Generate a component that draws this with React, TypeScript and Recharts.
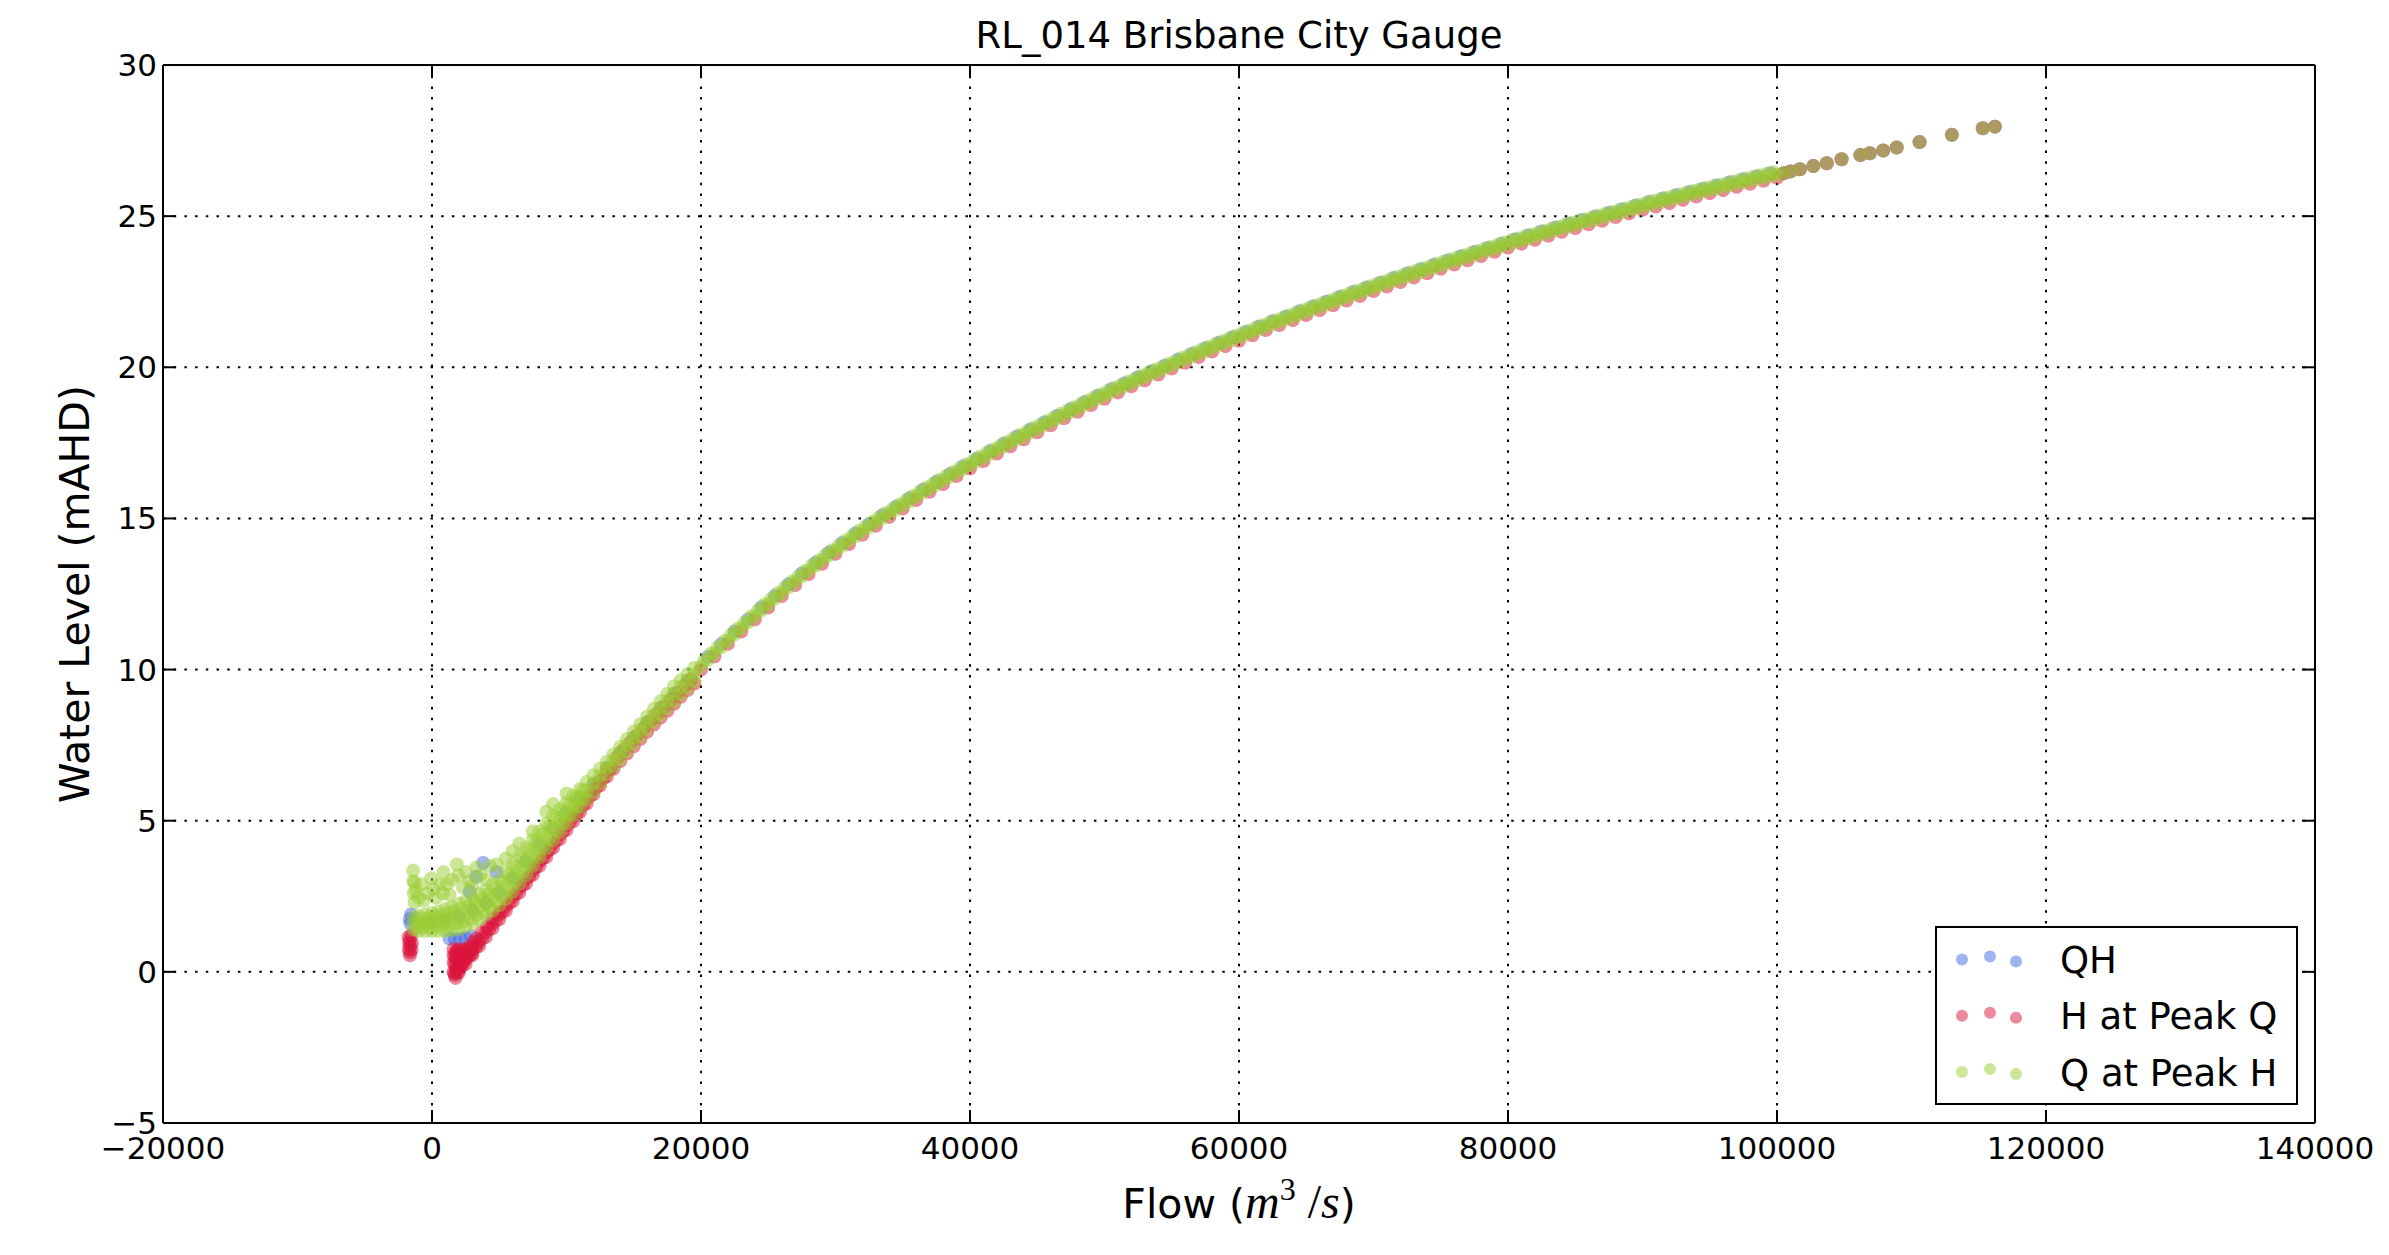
import { ScatterChart, Scatter, XAxis, YAxis, CartesianGrid, Legend } from "recharts";

const W = 2389;
const H = 1255;
const FONT = "'DejaVu Sans', sans-serif";
const MATH = "'Liberation Serif', 'DejaVu Serif', serif";
const DOT_R = 7;
const TICK = 13;

const xTicks = [-20000, 0, 20000, 40000, 60000, 80000, 100000, 120000, 140000];
const yTicks = [-5, 0, 5, 10, 15, 20, 25, 30];

// above ~100000 m3/s all three runs land on the same points
const peakTail = [
  [100500, 26.42], [101000, 26.48], [101700, 26.55], [102700, 26.66], [103700, 26.75],
  [104800, 26.88], [106200, 27.02], [106900, 27.08], [107900, 27.17], [108900, 27.27],
  [110600, 27.45], [113000, 27.69], [115300, 27.91], [116200, 27.96],
];

// QH
const qhLow = [
  [-1650, 1.75], [-1600, 1.6], [-1550, 1.9], [1300, 1.1], [1700, 1.08], [2100, 1.1],
  [2500, 1.12], [2900, 1.18], [2800, 2.65], [3300, 3.15], [3800, 3.6], [4800, 3.3],
];
const qhCore = [
  [0, 1.65], [1000, 1.72], [2000, 1.83], [3000, 2.02], [4000, 2.29], [5000, 2.62],
  [6000, 3.1], [7000, 3.65], [8000, 4.22], [9000, 4.75], [10000, 5.25], [11000, 5.75],
  [12000, 6.22], [13000, 6.75], [14000, 7.25], [15000, 7.75], [16000, 8.25], [17000, 8.73],
  [18000, 9.2], [19000, 9.63],
];
const qhBand = [
  [20500, 10.42], [21500, 10.84], [22500, 11.26], [23500, 11.66], [24500, 12.06], [25500, 12.44],
  [26500, 12.82], [27500, 13.18], [28500, 13.53], [29500, 13.87], [30500, 14.19], [31500, 14.51],
  [32500, 14.81], [33500, 15.11], [34500, 15.39], [35500, 15.67], [36500, 15.95], [37500, 16.21],
  [38500, 16.47], [39500, 16.73], [40500, 16.98], [41500, 17.23], [42500, 17.47], [43500, 17.71],
  [44500, 17.94], [45500, 18.17], [46500, 18.4], [47500, 18.62], [48500, 18.84], [49500, 19.06],
  [50500, 19.27], [51500, 19.47], [52500, 19.67], [53500, 19.87], [54500, 20.06], [55500, 20.26],
  [56500, 20.45], [57500, 20.63], [58500, 20.81], [59500, 20.99], [60500, 21.17], [61500, 21.35],
  [62500, 21.52], [63500, 21.68], [64500, 21.85], [65500, 22.01], [66500, 22.17], [67500, 22.33],
  [68500, 22.49], [69500, 22.64], [70500, 22.8], [71500, 22.95], [72500, 23.1], [73500, 23.24],
  [74500, 23.39], [75500, 23.53], [76500, 23.67], [77500, 23.81], [78500, 23.95], [79500, 24.09],
  [80500, 24.23], [81500, 24.36], [82500, 24.49], [83500, 24.62], [84500, 24.75], [85500, 24.87],
  [86500, 24.99], [87500, 25.11], [88500, 25.23], [89500, 25.35], [90500, 25.47], [91500, 25.58],
  [92500, 25.69], [93500, 25.8], [94500, 25.91], [95500, 26.01], [96500, 26.12], [97500, 26.22],
  [98500, 26.32], [99500, 26.42],
];

// H at Peak Q
const hpqBlob = [
  [-1750, 1.15], [-1550, 1.2], [-1700, 0.95], [-1500, 0.95], [-1720, 0.75], [-1520, 0.72],
  [-1630, 0.55], [-1650, 1.05], [-1600, 0.85], [-1650, 0.65],
];
const hpqTrough = [
  [1750, -0.2], [1600, 0.0], [1950, 0.0], [1600, 0.3], [1950, 0.3], [2300, 0.3],
  [1600, 0.55], [1950, 0.55], [2300, 0.55], [2650, 0.55], [2950, 0.6],
  [1600, 0.75], [1950, 0.75], [2300, 0.75], [2650, 0.75], [3000, 0.8], [3350, 0.9],
  [1700, -0.1], [1780, 0.15], [2120, 0.15], [1780, 0.43], [2120, 0.43], [2470, 0.43],
  [1780, 0.65], [2120, 0.65], [2470, 0.65], [2800, 0.68],
  [1650, -0.05], [1850, 0.05], [2050, 0.2], [1700, 0.25], [2000, 0.45], [2200, 0.6],
  [2500, 0.7], [1700, 0.5], [1850, 0.7], [2850, 0.85], [3100, 1.0],
  [3300, 1.1], [3700, 1.3], [4100, 1.5], [4500, 1.75], [5000, 1.98],
];
const hpqEdge = [
  [2000, -0.03], [2500, 0.26], [3000, 0.56], [3500, 0.85], [4000, 1.15], [4500, 1.44],
  [5000, 1.74], [5500, 2.03], [6000, 2.33], [6500, 2.62], [7000, 2.92], [7500, 3.21],
  [8000, 3.51], [8500, 3.8], [9000, 4.1], [9500, 4.39], [10000, 4.69], [10500, 4.98],
  [11000, 5.28], [11500, 5.57], [12000, 5.87], [12500, 6.16], [13000, 6.46], [13500, 6.72],
  [14000, 6.97], [14500, 7.22], [15000, 7.46], [15500, 7.7], [16000, 7.94], [16500, 8.18],
  [17000, 8.41], [17500, 8.64], [18000, 8.87], [18500, 9.1], [19000, 9.32], [19500, 9.54],
];
const hpqEdgeUp = [
  [2000, 0.12], [2500, 0.41], [3000, 0.71], [3500, 1.0], [4000, 1.3], [4500, 1.59],
  [5000, 1.89], [5500, 2.18], [6000, 2.48], [6500, 2.77], [7000, 3.07], [7500, 3.36],
  [8000, 3.66], [8500, 3.95], [9000, 4.25], [9500, 4.54], [10000, 4.84], [10500, 5.13],
  [11000, 5.43], [11500, 5.72], [12000, 6.02], [12500, 6.31], [13000, 6.61],
];
const hpqInner = [
  [2250, 0.22], [2750, 0.51], [3250, 0.81], [3750, 1.1], [4250, 1.4], [4750, 1.69],
  [5250, 1.99], [5750, 2.28], [6250, 2.58], [6750, 2.87], [7250, 3.17], [7750, 3.46],
  [8250, 3.76], [8750, 4.05], [9250, 4.35], [9750, 4.64], [10250, 4.94], [10750, 5.23],
  [11250, 5.53], [11750, 5.82], [12250, 6.12], [12750, 6.41], [13250, 6.71], [13750, 7.1],
  [14250, 7.35], [14750, 7.59], [15250, 7.83], [15750, 8.07], [16250, 8.31], [16750, 8.55],
  [17250, 8.78], [17750, 9.0], [18250, 9.24], [18750, 9.46], [19250, 9.68],
];
const hpqBand = [
  [20000, 10.0], [21000, 10.43], [22000, 10.85], [23000, 11.26], [24000, 11.66], [25000, 12.05],
  [26000, 12.43], [27000, 12.8], [28000, 13.16], [29000, 13.5], [30000, 13.83], [31000, 14.15],
  [32000, 14.46], [33000, 14.76], [34000, 15.05], [35000, 15.33], [36000, 15.61], [37000, 15.88],
  [38000, 16.14], [39000, 16.4], [40000, 16.65], [41000, 16.9], [42000, 17.15], [43000, 17.39],
  [44000, 17.62], [45000, 17.85], [46000, 18.08], [47000, 18.31], [48000, 18.53], [49000, 18.75],
  [50000, 18.96], [51000, 19.17], [52000, 19.37], [53000, 19.57], [54000, 19.76], [55000, 19.96],
  [56000, 20.15], [57000, 20.34], [58000, 20.52], [59000, 20.7], [60000, 20.88], [61000, 21.06],
  [62000, 21.23], [63000, 21.4], [64000, 21.56], [65000, 21.73], [66000, 21.89], [67000, 22.05],
  [68000, 22.21], [69000, 22.36], [70000, 22.52], [71000, 22.67], [72000, 22.82], [73000, 22.97],
  [74000, 23.11], [75000, 23.26], [76000, 23.4], [77000, 23.54], [78000, 23.68], [79000, 23.82],
  [80000, 23.96], [81000, 24.09], [82000, 24.22], [83000, 24.35], [84000, 24.48], [85000, 24.61],
  [86000, 24.73], [87000, 24.85], [88000, 24.97], [89000, 25.09], [90000, 25.21], [91000, 25.32],
  [92000, 25.43], [93000, 25.54], [94000, 25.65], [95000, 25.76], [96000, 25.86], [97000, 25.97],
  [98000, 26.07], [99000, 26.17], [100000, 26.27],
];

// Q at Peak H
const qphLower = [
  [-1350, 1.4], [-1000, 1.35], [-500, 1.35], [0, 1.35], [500, 1.35], [1000, 1.35], [1500, 1.38],
  [2000, 1.42], [2500, 1.5], [3000, 1.6], [3500, 1.72], [4000, 1.88], [4500, 2.02], [5000, 2.2],
  [5500, 2.42], [6000, 2.65], [6500, 2.92], [7000, 3.2], [7500, 3.5], [8000, 3.8], [8500, 4.08],
  [9000, 4.35], [9500, 4.62], [10000, 4.9], [10500, 5.18], [11000, 5.45], [11500, 5.7],
  [12000, 5.95], [12500, 6.25], [13000, 6.55], [13500, 6.8], [14000, 7.05], [14500, 7.3],
  [15000, 7.55], [15500, 7.8], [16000, 8.05], [16500, 8.28], [17000, 8.5], [17500, 8.73],
  [18000, 8.95], [18500, 9.18], [19000, 9.4], [19500, 9.62],
];
const qphLowerMid = [
  [-750, 1.48], [-250, 1.49], [250, 1.51], [750, 1.53], [1250, 1.56], [1750, 1.6], [2250, 1.67],
  [2750, 1.76], [3250, 1.87], [3750, 2.01], [4250, 2.16], [4750, 2.32], [5250, 2.53], [5750, 2.76],
  [6250, 3.01], [6750, 3.29], [7250, 3.57], [7750, 3.87], [8250, 4.15], [8750, 4.42], [9250, 4.68],
  [9750, 4.94], [10250, 5.21], [10750, 5.47], [11250, 5.72],
];
const qphMiddle = [
  [-1350, 1.6], [-1000, 1.6], [-500, 1.62], [0, 1.65], [500, 1.68], [1000, 1.72], [1500, 1.77],
  [2000, 1.83], [2500, 1.92], [3000, 2.02], [3500, 2.15], [4000, 2.29], [4500, 2.45], [5000, 2.62],
  [5500, 2.86], [6000, 3.1], [6500, 3.37], [7000, 3.65], [7500, 3.94], [8000, 4.22], [8500, 4.49],
  [9000, 4.75], [9500, 5.0], [10000, 5.25], [10500, 5.5], [11000, 5.75], [11500, 5.99],
  [12000, 6.22], [12500, 6.49], [13000, 6.75], [13500, 7.0], [14000, 7.25], [14500, 7.5],
  [15000, 7.75], [15500, 8.0], [16000, 8.25], [16500, 8.49], [17000, 8.73], [17500, 8.97],
  [18000, 9.2], [18500, 9.42], [19000, 9.63], [19500, 9.84],
];
const qphUpperMid = [
  [-750, 1.74], [-250, 1.78], [250, 1.82], [750, 1.87], [1250, 1.93], [1750, 2.0], [2250, 2.09],
  [2750, 2.19], [3250, 2.3], [3750, 2.43], [4250, 2.58], [4750, 2.75], [5250, 2.96], [5750, 3.2],
  [6250, 3.46], [6750, 3.74], [7250, 4.02], [7750, 4.3], [8250, 4.57], [8750, 4.82], [9250, 5.07],
  [9750, 5.31], [10250, 5.55], [10750, 5.78], [11250, 6.02],
];
const qphUpper = [
  [-1350, 1.8], [-1000, 1.85], [-500, 1.9], [0, 1.95], [500, 2.0], [1000, 2.08], [1500, 2.15],
  [2000, 2.25], [2500, 2.35], [3000, 2.45], [3500, 2.57], [4000, 2.7], [4500, 2.87], [5000, 3.05],
  [5500, 3.3], [6000, 3.55], [6500, 3.82], [7000, 4.1], [7500, 4.38], [8000, 4.65], [8500, 4.9],
  [9000, 5.15], [9500, 5.38], [10000, 5.6], [10500, 5.83], [11000, 6.05], [11500, 6.28],
  [12000, 6.5], [12500, 6.73], [13000, 6.95], [13500, 7.2], [14000, 7.45], [14500, 7.7],
  [15000, 7.95], [15500, 8.2], [16000, 8.45], [16500, 8.7], [17000, 8.95], [17500, 9.2],
  [18000, 9.45], [18500, 9.65], [19000, 9.85], [19500, 10.05],
];
const qphBand = [
  [20000, 10.1], [20500, 10.32], [21000, 10.53], [21500, 10.74], [22000, 10.95], [22500, 11.16],
  [23000, 11.36], [23500, 11.56], [24000, 11.76], [24500, 11.96], [25000, 12.15], [25500, 12.34],
  [26000, 12.53], [26500, 12.72], [27000, 12.9], [27500, 13.08], [28000, 13.26], [28500, 13.43],
  [29000, 13.6], [29500, 13.77], [30000, 13.93], [30500, 14.09], [31000, 14.25], [31500, 14.41],
  [32000, 14.56], [32500, 14.71], [33000, 14.86], [33500, 15.01], [34000, 15.15], [34500, 15.29],
  [35000, 15.43], [35500, 15.57], [36000, 15.71], [36500, 15.85], [37000, 15.98], [37500, 16.11],
  [38000, 16.24], [38500, 16.37], [39000, 16.5], [39500, 16.63], [40000, 16.75], [40500, 16.88],
  [41000, 17.0], [41500, 17.13], [42000, 17.25], [42500, 17.37], [43000, 17.49], [43500, 17.61],
  [44000, 17.72], [44500, 17.84], [45000, 17.95], [45500, 18.07], [46000, 18.18], [46500, 18.3],
  [47000, 18.41], [47500, 18.52], [48000, 18.63], [48500, 18.74], [49000, 18.85], [49500, 18.96],
  [50000, 19.06], [50500, 19.17], [51000, 19.27], [51500, 19.37], [52000, 19.47], [52500, 19.57],
  [53000, 19.67], [53500, 19.77], [54000, 19.86], [54500, 19.96], [55000, 20.06], [55500, 20.16],
  [56000, 20.25], [56500, 20.35], [57000, 20.44], [57500, 20.53], [58000, 20.62], [58500, 20.71],
  [59000, 20.8], [59500, 20.89], [60000, 20.98], [60500, 21.07], [61000, 21.16], [61500, 21.25],
  [62000, 21.33], [62500, 21.42], [63000, 21.5], [63500, 21.58], [64000, 21.66], [64500, 21.75],
  [65000, 21.83], [65500, 21.91], [66000, 21.99], [66500, 22.07], [67000, 22.15], [67500, 22.23],
  [68000, 22.31], [68500, 22.39], [69000, 22.46], [69500, 22.54], [70000, 22.62], [70500, 22.7],
  [71000, 22.77], [71500, 22.85], [72000, 22.92], [72500, 23.0], [73000, 23.07], [73500, 23.14],
  [74000, 23.21], [74500, 23.29], [75000, 23.36], [75500, 23.43], [76000, 23.5], [76500, 23.57],
  [77000, 23.64], [77500, 23.71], [78000, 23.78], [78500, 23.85], [79000, 23.92], [79500, 23.99],
  [80000, 24.06], [80500, 24.13], [81000, 24.19], [81500, 24.26], [82000, 24.32], [82500, 24.39],
  [83000, 24.45], [83500, 24.52], [84000, 24.58], [84500, 24.65], [85000, 24.71], [85500, 24.77],
  [86000, 24.83], [86500, 24.89], [87000, 24.95], [87500, 25.01], [88000, 25.07], [88500, 25.13],
  [89000, 25.19], [89500, 25.25], [90000, 25.31], [90500, 25.37], [91000, 25.42], [91500, 25.48],
  [92000, 25.53], [92500, 25.59], [93000, 25.64], [93500, 25.7], [94000, 25.75], [94500, 25.81],
  [95000, 25.86], [95500, 25.91], [96000, 25.96], [96500, 26.02], [97000, 26.07], [97500, 26.12],
  [98000, 26.17], [98500, 26.22], [99000, 26.27], [99500, 26.32], [100000, 26.37],
];
const qphBandHigh = [
  [20250, 10.31], [20750, 10.53], [21250, 10.74], [21750, 10.95], [22250, 11.16], [22750, 11.36],
  [23250, 11.56], [23750, 11.76], [24250, 11.96], [24750, 12.16], [25250, 12.35], [25750, 12.54],
  [26250, 12.73], [26750, 12.91], [27250, 13.09], [27750, 13.27], [28250, 13.45], [28750, 13.62],
  [29250, 13.79], [29750, 13.95], [30250, 14.11], [30750, 14.27], [31250, 14.43], [31750, 14.59],
  [32250, 14.74], [32750, 14.89], [33250, 15.04], [33750, 15.18], [34250, 15.32], [34750, 15.46],
  [35250, 15.6], [35750, 15.74], [36250, 15.88], [36750, 16.02], [37250, 16.15], [37750, 16.28],
  [38250, 16.41], [38750, 16.54], [39250, 16.67], [39750, 16.79], [40250, 16.92], [40750, 17.04],
  [41250, 17.17], [41750, 17.29], [42250, 17.41], [42750, 17.53], [43250, 17.65], [43750, 17.77],
  [44250, 17.88], [44750, 18.0], [45250, 18.11], [45750, 18.23], [46250, 18.34], [46750, 18.46],
  [47250, 18.57], [47750, 18.68], [48250, 18.79], [48750, 18.9], [49250, 19.01], [49750, 19.11],
  [50250, 19.22], [50750, 19.32], [51250, 19.42], [51750, 19.52], [52250, 19.62], [52750, 19.72],
  [53250, 19.82], [53750, 19.92], [54250, 20.01], [54750, 20.11], [55250, 20.21], [55750, 20.31],
  [56250, 20.4], [56750, 20.5], [57250, 20.59], [57750, 20.68], [58250, 20.77], [58750, 20.86],
  [59250, 20.95], [59750, 21.04], [60250, 21.13], [60750, 21.22], [61250, 21.31], [61750, 21.39],
  [62250, 21.48], [62750, 21.56], [63250, 21.64], [63750, 21.72], [64250, 21.81], [64750, 21.89],
  [65250, 21.97], [65750, 22.05], [66250, 22.13], [66750, 22.21], [67250, 22.29], [67750, 22.37],
  [68250, 22.45], [68750, 22.53], [69250, 22.6], [69750, 22.68], [70250, 22.76], [70750, 22.84],
  [71250, 22.91], [71750, 22.99], [72250, 23.06], [72750, 23.14], [73250, 23.21], [73750, 23.28],
  [74250, 23.35], [74750, 23.43], [75250, 23.5], [75750, 23.57], [76250, 23.64], [76750, 23.71],
  [77250, 23.78], [77750, 23.85], [78250, 23.92], [78750, 23.99], [79250, 24.06], [79750, 24.13],
  [80250, 24.2], [80750, 24.26], [81250, 24.33], [81750, 24.39], [82250, 24.46], [82750, 24.52],
  [83250, 24.59], [83750, 24.65], [84250, 24.72], [84750, 24.78], [85250, 24.84], [85750, 24.9],
  [86250, 24.96], [86750, 25.02], [87250, 25.08], [87750, 25.14], [88250, 25.2], [88750, 25.26],
  [89250, 25.32], [89750, 25.38], [90250, 25.44], [90750, 25.5], [91250, 25.55], [91750, 25.61],
  [92250, 25.66], [92750, 25.72], [93250, 25.77], [93750, 25.83], [94250, 25.88], [94750, 25.94],
  [95250, 25.99], [95750, 26.04], [96250, 26.09], [96750, 26.15], [97250, 26.2], [97750, 26.25],
  [98250, 26.3], [98750, 26.35], [99250, 26.4], [99750, 26.45],
];
const qphLoose = [
  [-1400, 3.35], [-1300, 2.95], [-1350, 2.6], [-1300, 2.3], [-50, 3.1], [100, 2.75], [850, 3.3],
  [1100, 2.9], [1850, 3.55], [1950, 3.2], [2800, 3.0], [3300, 3.45], [5500, 3.75], [7500, 4.65],
  [10000, 5.9], [-1400, 3.0], [-1200, 2.7], [-1000, 2.45], [-800, 2.9], [-600, 2.35], [-300, 2.6],
  [300, 2.45], [600, 2.9], [800, 2.6], [1300, 2.55], [1500, 3.05], [2300, 2.8], [2500, 3.3],
  [3000, 2.85], [3600, 3.2], [4000, 3.05], [4300, 3.5], [4800, 3.55], [6000, 4.0], [6500, 4.25],
  [8500, 5.3], [9000, 5.55],
];

const toPts = (arr: number[][]) => arr.map(([x, y]) => ({ x, y }));

const series = [
  { name: "QH", color: "#4169e1", pts: toPts([...qhLow, ...qhCore, ...qhBand, ...peakTail]) },
  {
    name: "H at Peak Q",
    color: "#dc143c",
    pts: toPts([
      ...hpqBlob, ...hpqTrough, ...hpqEdge, ...hpqEdgeUp, ...hpqInner, ...hpqBand, ...peakTail,
    ]),
  },
  {
    name: "Q at Peak H",
    color: "#9acd32",
    pts: toPts([
      ...qphLower, ...qphLowerMid, ...qphMiddle, ...qphUpperMid, ...qphUpper,
      ...qphBand, ...qphBandHigh, ...qphLoose, ...peakTail,
    ]),
  },
];

const fmt = (v: number) => (v < 0 ? "\u2212" + Math.abs(v) : String(v));

const BottomTick = ({ x, y, payload }: any) => (
  <g>
    <line x1={x} y1={y} x2={x} y2={y - TICK} stroke="#000" strokeWidth={2} />
    <text x={x} y={y + 36} textAnchor="middle" fontFamily={FONT} fontSize={31} fill="#000">
      {fmt(payload.value)}
    </text>
  </g>
);

const TopTick = ({ x, y }: any) => (
  <line x1={x} y1={y} x2={x} y2={y + TICK} stroke="#000" strokeWidth={2} />
);

const LeftTick = ({ x, y, payload }: any) => (
  <g>
    <line x1={x} y1={y} x2={x + TICK} y2={y} stroke="#000" strokeWidth={2} />
    <text x={x - 6} y={y + 11} textAnchor="end" fontFamily={FONT} fontSize={31} fill="#000">
      {fmt(payload.value)}
    </text>
  </g>
);

const RightTick = ({ x, y }: any) => (
  <line x1={x} y1={y} x2={x - TICK} y2={y} stroke="#000" strokeWidth={2} />
);

const TitleLabel = ({ viewBox }: any) => (
  <text
    x={viewBox.x + viewBox.width / 2}
    y={viewBox.y + 3}
    textAnchor="middle"
    fontFamily={FONT}
    fontSize={37}
    fill="#000"
  >
    RL_014 Brisbane City Gauge
  </text>
);

const FlowLabel = ({ viewBox }: any) => (
  <text
    x={viewBox.x + viewBox.width / 2}
    y={viewBox.y + 95}
    textAnchor="middle"
    fontFamily={FONT}
    fontSize={41}
    fill="#000"
  >
    {"Flow ("}
    <tspan fontFamily={MATH} fontStyle="italic" fontSize={48}>m</tspan>
    <tspan fontFamily={MATH} fontSize={32} dy={-18}>3</tspan>
    <tspan fontFamily={MATH} fontSize={48} dy={18}>{" /"}</tspan>
    <tspan fontFamily={MATH} fontStyle="italic" fontSize={48}>s</tspan>
    {")"}
  </text>
);

const LevelLabel = ({ viewBox }: any) => {
  const x = viewBox.x + 26;
  const y = viewBox.y + viewBox.height / 2;
  return (
    <text
      x={x}
      y={y}
      transform={`rotate(-90, ${x}, ${y})`}
      textAnchor="middle"
      fontFamily={FONT}
      fontSize={41}
      fill="#000"
    >
      Water Level (mAHD)
    </text>
  );
};

const markerX = [27, 55, 81];
const markerDy = [-0.5, -3.5, 1.5];

const LegendBox = () => (
  <svg width={363} height={179} style={{ display: "block" }}>
    <rect x={1} y={1} width={361} height={177} fill="#fff" stroke="#000" strokeWidth={2} />
    {series.map((s, i) => {
      const cy = 34 + i * 56.25;
      return (
        <g key={s.name}>
          {markerX.map((mx, j) => (
            <circle key={j} cx={mx} cy={cy + markerDy[j]} r={6} fill={s.color} fillOpacity={0.5} />
          ))}
          <text x={125} y={cy + 13} fontFamily={FONT} fontSize={37} fill="#000">
            {s.name}
          </text>
        </g>
      );
    })}
  </svg>
);

const makeDot = (color: string) => (props: any) => (
  <circle cx={props.cx} cy={props.cy} r={DOT_R} fill={color} fillOpacity={0.5} />
);

export default function App() {
  return (
    <div style={{ position: "absolute", left: 0, top: 0, width: W, height: H, background: "#fff" }}>
      <ScatterChart width={W} height={H} margin={{ top: 45, right: 54, bottom: 72, left: 63 }}>
        <XAxis
          type="number"
          dataKey="x"
          domain={[-20000, 140000]}
          ticks={xTicks}
          interval={0}
          allowDataOverflow
          height={60}
          axisLine={{ stroke: "#000", strokeWidth: 2 }}
          tickLine={false}
          tickSize={0}
          tickMargin={0}
          tick={BottomTick}
          label={{ content: FlowLabel }}
        />
        <XAxis
          xAxisId="top"
          orientation="top"
          type="number"
          dataKey="x"
          domain={[-20000, 140000]}
          ticks={xTicks}
          interval={0}
          allowDataOverflow
          height={20}
          axisLine={{ stroke: "#000", strokeWidth: 2 }}
          tickLine={false}
          tickSize={0}
          tickMargin={0}
          tick={TopTick}
          label={{ content: TitleLabel }}
        />
        <YAxis
          type="number"
          dataKey="y"
          domain={[-5, 30]}
          ticks={yTicks}
          interval={0}
          allowDataOverflow
          width={100}
          axisLine={{ stroke: "#000", strokeWidth: 2 }}
          tickLine={false}
          tickSize={0}
          tickMargin={0}
          tick={LeftTick}
          label={{ content: LevelLabel }}
        />
        <YAxis
          yAxisId="right"
          orientation="right"
          type="number"
          dataKey="y"
          domain={[-5, 30]}
          ticks={yTicks}
          interval={0}
          allowDataOverflow
          width={20}
          axisLine={{ stroke: "#000", strokeWidth: 2 }}
          tickLine={false}
          tickSize={0}
          tickMargin={0}
          tick={RightTick}
        />
        {series.map((s) => (
          <Scatter
            key={s.name}
            name={s.name}
            data={s.pts}
            fill={s.color}
            shape={makeDot(s.color)}
            isAnimationActive={false}
          />
        ))}
        <CartesianGrid stroke="#000" strokeWidth={2} strokeDasharray="2.5 8.2" />
        <Legend
          layout="horizontal"
          verticalAlign="middle"
          align="center"
          content={LegendBox}
          wrapperStyle={{ left: 1935, top: 926, width: 363, height: 179 }}
        />
      </ScatterChart>
    </div>
  );
}
